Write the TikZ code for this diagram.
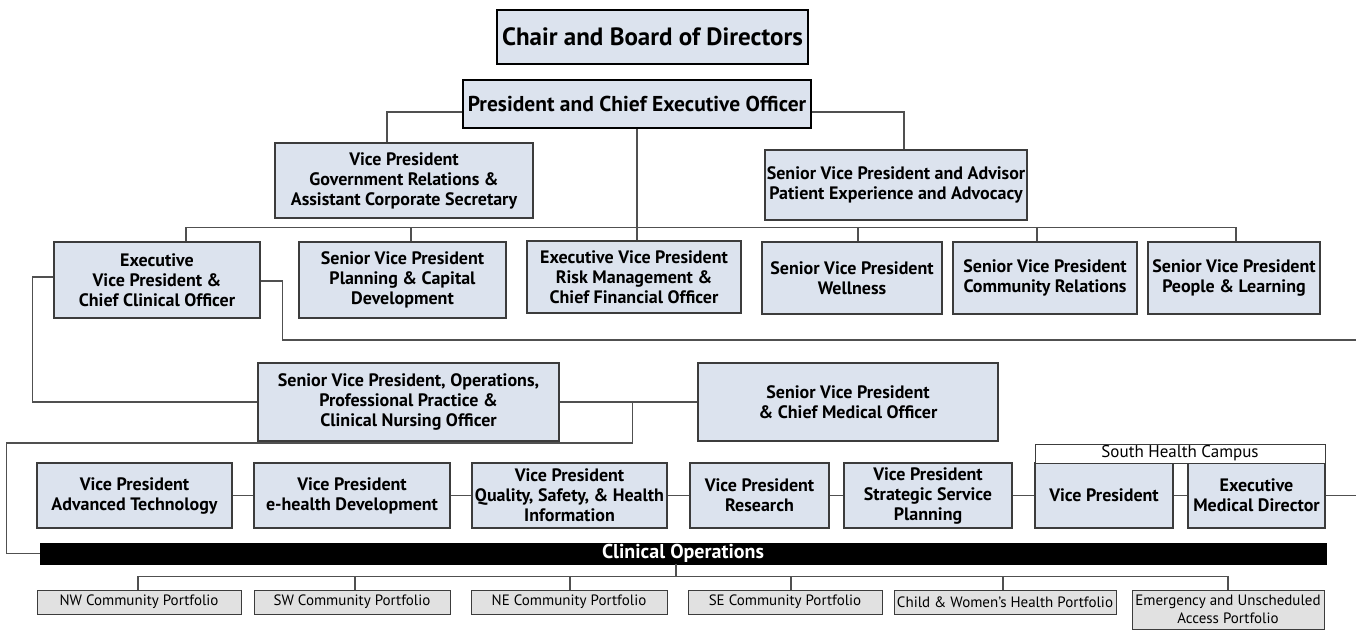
\documentclass[tikz,border=0pt]{standalone}
\usepackage{fontspec}
\setmainfont{PT Sans}
\definecolor{boxfill}{RGB}{220,227,238}
\definecolor{portfill}{RGB}{225,225,225}
\definecolor{edge}{RGB}{60,60,60}
\definecolor{wire}{RGB}{80,80,80}
\tikzset{
  bx/.style={draw=edge, fill=boxfill, line width=1.1pt, align=center, inner sep=0pt,
    font=\fontsize{18}{20}\selectfont\bfseries},
  topbx/.style={draw=black, fill=boxfill, line width=1.6pt, align=center, inner sep=0pt},
  port/.style={draw=edge, fill=portfill, line width=0.9pt, align=center, inner sep=0pt,
    font=\fontsize{15}{18}\selectfont},
  conn/.style={draw=wire, line width=1.1pt},
}
\begin{document}
\begin{tikzpicture}[x=1pt,y=-1pt]
\useasboundingbox (0,0) rectangle (1356,630);
% top
\node[topbx, minimum width=311pt, minimum height=54pt, font=\fontsize{25}{28}\selectfont\bfseries] (chair) at (652.5,37) {Chair and Board of Directors};
\node[topbx, minimum width=348pt, minimum height=48pt, font=\fontsize{21.5}{26}\selectfont\bfseries] (pres) at (637,104) {President and Chief Executive Officer};
\node[bx, minimum width=258pt, minimum height=75pt] (vpgov) at (404,180.5) {Vice President\\Government Relations \&\\Assistant Corporate Secretary};
\node[bx, minimum width=262pt, minimum height=70pt] (svpadv) at (896,185) {Senior Vice President and Advisor\\Patient Experience and Advocacy};
% row 2
\node[bx, minimum width=206pt, minimum height=76pt] (evp) at (157,280) {Executive\\Vice President \&\\Chief Clinical Officer};
\node[bx, minimum width=207pt, minimum height=76pt] (svpplan) at (402.5,280) {Senior Vice President\\Planning \& Capital\\Development};
\node[bx, minimum width=214pt, minimum height=72pt] (evprisk) at (634,277) {Executive Vice President\\Risk Management \&\\Chief Financial Officer};
\node[bx, minimum width=180pt, minimum height=72pt] (wellness) at (852,278) {Senior Vice President\\Wellness};
\node[bx, minimum width=184pt, minimum height=72pt] (community) at (1045,278) {Senior Vice President\\Community Relations};
\node[bx, minimum width=172pt, minimum height=72pt] (people) at (1234,278) {Senior Vice President\\People \& Learning};
% row ops
\node[bx, minimum width=301pt, minimum height=78pt] (svpops) at (408.5,402) {Senior Vice President, Operations,\\Professional Practice \&\\Clinical Nursing Officer};
\node[bx, minimum width=300pt, minimum height=78pt] (svpcmo) at (848,402) {Senior Vice President\\\& Chief Medical Officer};
% row 3
\node[bx, minimum width=195pt, minimum height=65pt] (advtech) at (134.5,495.5) {Vice President\\Advanced Technology};
\node[bx, minimum width=196pt, minimum height=65pt] (ehealth) at (352,495.5) {Vice President\\e-health Development};
\node[bx, minimum width=195pt, minimum height=65pt] (quality) at (569.5,495.5) {Vice President\\Quality, Safety, \& Health\\Information};
\node[bx, minimum width=139pt, minimum height=65pt] (research) at (759.5,495.5) {Vice President\\Research};
\node[bx, minimum width=168pt, minimum height=65pt] (strategic) at (928,495.5) {Vice President\\Strategic Service\\Planning};
\node[bx, minimum width=138pt, minimum height=65pt] (vpshc) at (1104,495.5) {Vice President};
\node[bx, minimum width=137pt, minimum height=65pt] (emd) at (1256.5,495.5) {Executive\\Medical Director};
\node[draw=edge, fill=white, line width=0.8pt, inner sep=0pt, minimum width=290pt, minimum height=19pt, font=\fontsize{17}{18}\selectfont] (shc) at (1180,453.5) {South Health Campus};
% clinical operations bar
\node[fill=black, draw=black, inner sep=0pt, minimum width=1286pt, minimum height=21pt, text=white, font=\fontsize{20}{21}\selectfont\bfseries] (clin) at (683,553.5) {Clinical Operations};
% portfolios
\node[port, minimum width=204pt, minimum height=24pt] (nw) at (139,602) {NW Community Portfolio};
\node[port, minimum width=196pt, minimum height=24pt] (sw) at (352,602) {SW Community Portfolio};
\node[port, minimum width=196pt, minimum height=24pt] (ne) at (569,602) {NE Community Portfolio};
\node[port, minimum width=194pt, minimum height=24pt] (se) at (785,602) {SE Community Portfolio};
\node[port, minimum width=222pt, minimum height=24pt] (child) at (1005,602) {Child \& Women's Health Portfolio};
\node[port, minimum width=192pt, minimum height=39pt] (emerg) at (1228,609.75) {Emergency and Unscheduled\\Access Portfolio};
% free ends
\coordinate (e1) at (1356,340);
\coordinate (e2) at (1356,495.5);
% connectors
\draw[conn] ([yshift=-8pt]pres.west) -| ([xshift=-17pt]vpgov.north);
\draw[conn] ([yshift=-8pt]pres.east) -| ([xshift=8pt]svpadv.north);
\draw[conn] (pres.south) -- (pres.south |- evprisk.north);
\draw[conn] ([xshift=29pt]evp.north) -- ++(0,-14) -| ([xshift=2pt]people.north);
\draw[conn] ([xshift=8.5pt]svpplan.north) -- ++(0,-14);
\draw[conn] ([xshift=6pt]wellness.north) -- ++(0,-14);
\draw[conn] ([xshift=-8pt]community.north) -- ++(0,-14);
\draw[conn] ([yshift=-1pt]evp.east) -- ++(22,0) |- (e1);
\draw[conn] ([yshift=3pt]evp.west) -- ++(-21,0) |- (svpops.west);
\draw[conn] (svpops.east) -- (svpcmo.west);
\draw[conn] ([xshift=73pt]svpops.east) -- ++(0,41) -| ([xshift=-33pt]clin.west) -- (clin.west);
\draw[conn] (advtech) -- (ehealth);
\draw[conn] (ehealth) -- (quality);
\draw[conn] (quality) -- (research);
\draw[conn] (research) -- (strategic);
\draw[conn] (strategic) -- (vpshc);
\draw[conn] (vpshc) -- (emd);
\draw[conn] (emd.east) -- (e2);
\draw[conn] ([xshift=-7pt]clin.south) -- ++(0,13);
\draw[conn] ([xshift=-1pt]nw.north) -- ++(0,-13) -| (emerg.north);
\draw[conn] ([xshift=3pt]sw.north) -- ++(0,-13);
\draw[conn] ([xshift=1pt]ne.north) -- ++(0,-13);
\draw[conn] ([xshift=6pt]se.north) -- ++(0,-13);
\draw[conn] ([xshift=-2pt]child.north) -- ++(0,-13);
\end{tikzpicture}
\end{document}
